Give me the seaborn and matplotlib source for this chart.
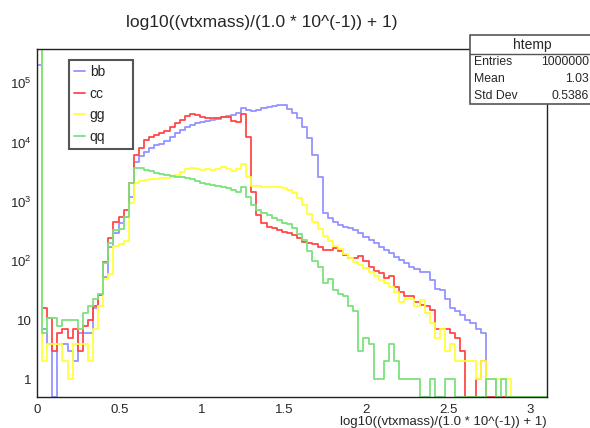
import numpy as np
import pandas as pd
import matplotlib
matplotlib.use('Agg')
import matplotlib.pyplot as plt
import seaborn as sns
from matplotlib.patches import Rectangle
from matplotlib.lines import Line2D
from matplotlib.ticker import FixedLocator, FixedFormatter, MultipleLocator, LogLocator, NullFormatter

# ROOT htemp: 100 bins between 0 and 3.1
x_lo, x_hi, n_bins = 0.0, 3.1, 100
samples = ['bb', 'cc', 'gg', 'qq']
colors = {'bb': '#9494ff', 'cc': '#ff4848', 'gg': '#ffff3a', 'qq': '#7ce27c'}

bb = [200000, 7, 4, 0, 4, 4, 3, 2, 6, 6, 6,
      16, 26, 54, 173, 290, 430, 560, 1200,
      4700, 5800, 7000, 8000, 9000, 9400, 10700, 12500, 14300, 16000, 18000, 19900,
      21000, 22000, 23300, 24000, 24700, 26500, 28200, 29300, 32000, 38000,
      35500, 33400, 35500, 38000, 39600, 41600, 43500, 42500, 37000, 31000,
      25500, 18500, 11800, 6200, 2650, 650, 525, 460, 405, 380,
      355, 330, 292, 256, 225, 198, 174, 152, 134, 117,
      103, 91, 80, 74, 65, 65, 47, 34, 32, 23,
      16, 14, 12, 10, 9, 7, 6, 1, 1, 0,
      0, 0, 0, 0, 0, 0, 0, 0, 0]
cc = [600000, 16, 11, 3, 6, 7, 5, 7, 3, 8, 10,
      17, 26, 95, 240, 460, 540, 720, 2060,
      6200, 8000, 11000, 12300, 13400, 14300, 15800, 18000, 21000, 24000, 28000, 30500,
      29000, 26500, 25800, 25800, 25800, 26500, 27000, 23500, 22500, 30500,
      12300, 1480, 596, 440, 380, 355, 330, 310, 290, 270,
      240, 210, 198, 195, 174, 155, 154, 168, 145, 125,
      112, 112, 120, 100, 78, 68, 62, 52, 56, 36,
      30, 25, 25, 20, 18, 17, 15, 7, 7, 7,
      6, 5, 3, 0, 0, 1, 2, 0, 0, 0,
      0, 0, 0, 0, 0, 0, 0, 0, 0]
gg = [600000, 2, 4, 4, 4, 2, 1, 4, 4, 4, 2,
      7, 17, 50, 60, 175, 190, 220, 950,
      2100, 2250, 2350, 2450, 2450, 2550, 2500, 2600, 2850, 3200, 3500, 3650,
      3500, 3450, 3500, 3450, 3500, 3800, 3500, 3350, 3500, 4330,
      2650, 1850, 1820, 1800, 1800, 1800, 1780, 1700, 1600, 1420,
      1150, 880, 620, 460, 340, 265, 215, 180, 158, 130,
      110, 97, 85, 75, 65, 55, 47, 42, 36, 30,
      20, 23, 23, 17, 22, 13, 9, 5, 7, 3,
      4, 2, 2, 2, 2, 1, 2, 1, 1, 1,
      1, 1, 0, 0, 0, 0, 0, 0, 0]
qq = [600000, 6, 11, 11, 8, 10, 10, 10, 7, 13, 17,
      23, 28, 91, 200, 330, 350, 550, 2060,
      3760, 3700, 3450, 3300, 3100, 2900, 2800, 2730, 2650, 2570, 2500, 2400,
      2230, 2040, 1980, 1920, 1850, 1790, 1690, 1580, 1480, 1750,
      1190, 880, 720, 650, 596, 525, 490, 440, 420, 360,
      280, 225, 145, 100, 80, 42, 50, 32, 28, 25,
      17, 14, 3, 5, 4, 1, 1, 2, 4, 2,
      1, 1, 1, 1, 0, 0, 1, 0, 0, 1,
      1, 0, 0, 0, 0, 0, 0, 1, 1, 0,
      1, 0, 0, 0, 0, 0, 0, 0, 0]

x_ticks = [0, 0.5, 1, 1.5, 2, 2.5, 3]
x_tick_labels = ['0', '0.5', '1', '1.5', '2', '2.5', '3']
y_ticks = [1, 10, 100, 1000, 10000, 100000]
y_tick_labels = ['1', '10', '$10^{2}$', '$10^{3}$', '$10^{4}$', '$10^{5}$']

title = 'log10((vtxmass)/(1.0 * 10^(-1)) + 1)'
stats_name = 'htemp'
stats = [('Entries', '1000000'), ('Mean', '1.03'), ('Std Dev', '0.5386')]

edges = np.linspace(x_lo, x_hi, n_bins + 1)
centers = (edges[:-1] + edges[1:]) / 2
counts = {'bb': bb, 'cc': cc, 'gg': gg, 'qq': qq}

sns.set_style('white')
plt.rcParams['font.family'] = ['Liberation Sans', 'DejaVu Sans']
plt.rcParams['mathtext.default'] = 'regular'

W, H = 590, 428
fig = plt.figure(figsize=(W / 100, H / 100), dpi=100)
ax = fig.add_axes([37 / W, 1 - 397 / H, 510 / W, 348 / H])

y_min, y_max = 0.5, 3.8e5
for s in samples:
    # empty bins sit on the frame bottom, like ROOT does on a log scale
    df = pd.DataFrame({'x': centers,
                       'n': np.clip(np.asarray(counts[s], dtype=float), y_min, None)})
    sns.histplot(data=df, x='x', weights='n', bins=n_bins, binrange=(x_lo, x_hi),
                 element='step', fill=False, color=colors[s], linewidth=1.3,
                 label=s, ax=ax)

ax.set_yscale('log')
ax.set_xlim(x_lo, x_hi)
ax.set_ylim(y_min, y_max)

ax.xaxis.set_major_locator(FixedLocator(x_ticks))
ax.xaxis.set_major_formatter(FixedFormatter(x_tick_labels))
ax.xaxis.set_minor_locator(MultipleLocator(0.1))
ax.yaxis.set_major_locator(FixedLocator(y_ticks))
ax.yaxis.set_major_formatter(FixedFormatter(y_tick_labels))
ax.yaxis.set_minor_locator(LogLocator(base=10, subs=np.arange(2, 10), numticks=20))
ax.yaxis.set_minor_formatter(NullFormatter())

ax.tick_params(which='both', direction='in', top=False, right=False, color='#222222')
ax.tick_params(axis='x', which='major', length=7.5, width=0.8, pad=5, labelsize=9.5)
ax.tick_params(axis='x', which='minor', length=3.8, width=0.8)
ax.tick_params(axis='y', which='major', length=11.5, width=0.8, pad=4, labelsize=9.5)
ax.tick_params(axis='y', which='minor', length=5.8, width=0.8)
for sp in ax.spines.values():
    sp.set_visible(True)
    sp.set_color('#222222')
    sp.set_linewidth(1.0)

ax.set_xlabel(title, loc='right', fontsize=9.5, labelpad=0)
ax.set_ylabel('')

leg = ax.legend(loc='upper left', bbox_to_anchor=(32 / 510, 1 - 11 / 348, 64 / 510, 0),
                mode='expand', fontsize=10, frameon=True, fancybox=False,
                edgecolor='#555555', framealpha=1, borderpad=0.35, labelspacing=0.55,
                handlelength=0.8, handletextpad=0.35, borderaxespad=0)
leg.get_frame().set_linewidth(1.5)

fig.text(262 / W, 1 - 22 / H, title, ha='center', va='center', fontsize=12.5)


def fx(px):
    return px / W


def fy(py):
    return 1 - py / H


# statistics box (runs off the right edge like in the original canvas)
box_l, box_r, box_t, box_b = 470, 596, 35, 104
fig.add_artist(Rectangle((fx(box_l), fy(box_b)), fx(box_r) - fx(box_l), fy(box_t) - fy(box_b),
                         transform=fig.transFigure, facecolor='white', edgecolor='#555555',
                         linewidth=1.2, zorder=5))
fig.add_artist(Line2D([fx(box_l), fx(box_r)], [fy(54), fy(54)], transform=fig.transFigure,
                      color='#555555', linewidth=1.0, zorder=6))
fig.text(fx(532), fy(44.5), stats_name, ha='center', va='center', fontsize=10, zorder=7)
for i, (lab, val) in enumerate(stats):
    yy = fy(62 + 17 * i)
    fig.text(fx(474), yy, lab, ha='left', va='center', fontsize=8.8, zorder=7)
    fig.text(fx(589), yy, val, ha='right', va='center', fontsize=8.8, zorder=7)

fig.savefig('out.png', dpi=100)
